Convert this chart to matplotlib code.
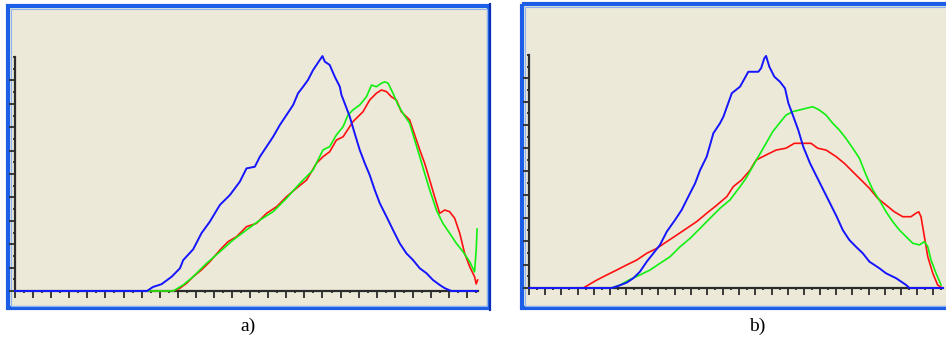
import matplotlib.pyplot as plt
from matplotlib.patches import Rectangle
from matplotlib.ticker import MultipleLocator

# intensity (0-255) against relative count (% of the tallest peak)
a_blue_x = [0, 73, 76.2, 81.0, 86.6, 91.2, 93.0, 98.5, 103.1, 107.7, 113.3, 118.8, 124.3, 128.0, 132.6,
            135.4, 139.1, 142.7, 146.4, 150.1, 153.8, 156.5, 159.3, 162.0, 164.8, 168.5, 170.0, 171.3,
            174.0, 176.8, 179.6, 180.5, 182.3, 185.1, 187.8, 190.6, 193.4, 196.1, 198.9, 201.7, 205.4,
            209.0, 212.7, 216.4, 220.1, 223.8, 227.5, 231.1, 234.8, 237.6, 241.3, 255.5]
a_blue_y = [0, 0, 1.7, 2.9, 6.1, 9.7, 13.2, 17.8, 24.7, 29.6, 36.8, 41.0, 46.7, 52.4, 53.1,
            57.4, 61.7, 65.9, 70.9, 75.2, 79.5, 84.5, 87.3, 90.2, 94.4, 98.7, 100.4, 98.0,
            96.6, 91.6, 87.3, 83.8, 80.2, 74.5, 67.4, 60.3, 54.6, 49.6, 43.2, 37.5, 31.8,
            26.1, 20.4, 16.1, 13.2, 9.7, 7.6, 4.7, 2.6, 1.2, 0, 0]

a_red_x = [0, 87.5, 91.2, 94.9, 98.5, 103.1, 107.7, 113.3, 117.8, 122.5, 128.0, 133.5, 139.1, 144.6,
           150.1, 155.6, 161.2, 166.7, 170.3, 174.0, 177.7, 181.4, 186.9, 192.4, 196.1, 199.8, 202.6,
           205.4, 208.1, 210.9, 213.6, 218.2, 221.0, 223.8, 226.5, 229.3, 232.0, 234.8, 237.6, 240.3,
           243.1, 245.9, 248.6, 251.4, 254.1, 255.0, 255.8]
a_red_y = [0, 0, 1.2, 3.3, 6.1, 9.0, 12.5, 17.5, 21.1, 23.2, 27.5, 28.9, 33.2, 36.0,
           40.3, 43.9, 47.4, 54.6, 57.4, 59.5, 64.5, 65.9, 72.4, 76.6, 81.6, 84.5, 85.9,
           85.2, 83.0, 81.6, 76.6, 73.1, 66.7, 60.3, 54.6, 47.4, 40.3, 33.2, 34.6, 33.9,
           31.1, 24.7, 16.1, 10.4, 6.1, 3.0, 4.7]

a_green_x = [0, 87.5, 93.0, 98.5, 105.9, 113.3, 120.6, 128.0, 135.4, 142.7, 150.1, 157.5, 164.8,
             170.3, 174.0, 177.7, 181.4, 184.1, 186.9, 190.6, 194.3, 197.1, 199.8, 202.6, 204.4,
             206.3, 209.0, 211.8, 214.5, 218.2, 221.0, 223.8, 226.5, 229.3, 233.0, 236.6, 240.3,
             244.0, 247.7, 251.4, 254.1, 255.0, 255.5]
a_green_y = [0, 0, 2.6, 6.1, 11.8, 16.8, 21.8, 26.1, 30.3, 33.9, 39.6, 46.0, 51.7,
             60.3, 61.7, 66.7, 70.2, 75.2, 77.4, 79.5, 83.0, 88.0, 87.3, 88.8, 89.4,
             88.8, 84.5, 79.5, 75.9, 71.7, 64.5, 57.4, 50.3, 43.2, 34.6, 28.9, 24.7,
             20.4, 16.8, 12.5, 8.2, 17.5, 26.5]

b_blue_x = [0, 51.1, 55.2, 60.4, 64.5, 68.6, 72.8, 76.9, 81.0, 85.2, 90.3, 94.4, 98.5, 102.7, 105.8,
            109.9, 114.0, 118.1, 120.2, 125.4, 130.5, 135.6, 141.8, 143.5, 145.5, 146.6, 148.6,
            151.7, 155.2, 158.3, 160.4, 163.5, 166.5, 169.6, 173.8, 178.9, 184.1, 190.3, 194.0,
            198.1, 202.2, 206.4, 210.5, 216.6, 220.8, 227.0, 233.2, 235.2, 256]
b_blue_y = [0, 0, 0.9, 2.3, 4.2, 7.0, 11.3, 14.9, 18.5, 24.2, 29.2, 33.5, 39.2, 44.9, 50.6,
            56.4, 66.4, 70.7, 73.5, 83.6, 86.4, 92.8, 92.8, 94.3, 98.6, 99.6, 95.0,
            90.7, 88.5, 85.7, 79.3, 73.5, 67.8, 60.6, 53.5, 46.4, 39.2, 30.6, 24.9,
            20.6, 17.7, 14.9, 11.3, 8.5, 6.3, 4.2, 1.3, 0, 0]

b_red_x = [0, 33.6, 36.7, 41.9, 48.1, 54.2, 60.4, 66.6, 72.8, 79.0, 85.2, 91.3, 97.5, 103.7, 109.9,
           115.0, 122.3, 126.3, 131.5, 136.7, 140.4, 146.6, 152.8, 158.9, 164.1, 169.3, 174.4,
           178.5, 183.7, 189.9, 195.0, 200.2, 205.3, 210.5, 215.6, 220.8, 225.9, 231.1, 236.2,
           239.3, 241.0, 242.4, 244.5, 246.6, 249.7, 252.7, 254.8]
b_red_y = [0, 0, 1.3, 3.4, 5.6, 7.7, 9.9, 12.0, 14.9, 17.0, 19.9, 22.7, 25.6, 28.5, 32.1,
           34.9, 39.2, 43.5, 46.4, 50.6, 54.9, 57.1, 59.2, 60.0, 62.1, 62.1, 62.1,
           60.0, 59.2, 56.4, 53.5, 49.9, 46.4, 42.8, 38.5, 35.6, 32.7, 30.6, 30.6,
           32.1, 32.7, 30.6, 22.0, 13.4, 6.3, 1.3, 0.3]

b_green_x = [0, 51.1, 56.3, 62.5, 68.6, 74.8, 81.0, 87.2, 93.4, 99.6, 105.8, 111.9, 118.1, 124.3,
             130.5, 134.2, 138.3, 142.4, 146.6, 150.7, 154.8, 158.9, 163.1, 167.2, 171.3, 175.4,
             179.5, 183.7, 187.8, 191.9, 196.0, 200.2, 204.3, 208.4, 212.6, 216.6, 220.8, 224.9,
             229.0, 233.2, 237.3, 241.4, 244.5, 246.6, 248.6, 251.7, 254.8]
b_green_y = [0, 0, 1.3, 3.7, 5.6, 7.7, 10.6, 13.4, 17.7, 21.3, 25.6, 29.9, 34.2, 37.8,
             43.5, 47.1, 52.1, 57.1, 62.1, 67.1, 70.7, 74.2, 75.7, 76.4, 77.1, 77.8,
             76.4, 74.2, 70.7, 67.8, 64.2, 60.0, 55.7, 48.5, 42.1, 37.8, 32.7, 28.5,
             24.9, 22.0, 19.2, 18.5, 19.9, 17.7, 12.0, 6.3, 1.3]

panels = [
    ('a)', a_red_x, a_red_y, a_green_x, a_green_y, a_blue_x, a_blue_y),
    ('b)', b_red_x, b_red_y, b_green_x, b_green_y, b_blue_x, b_blue_y),
]

bg = '#ece9d8'
fig = plt.figure(figsize=(9.46, 3.42), dpi=100)
fig.patch.set_facecolor('white')

# window frames drawn in pixel space
frame = fig.add_axes([0, 0, 1, 1])
frame.set_xlim(0, 946)
frame.set_ylim(342, 0)
frame.axis('off')
for x0, x1, y0 in [(6, 491, 4), (520, 960, 2)]:
    frame.add_patch(Rectangle((x0, y0), x1 - x0, 310 - y0, facecolor=bg, edgecolor='none'))
    frame.add_patch(Rectangle((x0 + 2, y0 + 2), x1 - x0 - 4, 306 - y0, facecolor='none',
                              edgecolor='#1c5fe6', linewidth=3))
    frame.add_patch(Rectangle((x0 + 4.5, y0 + 4.5), x1 - x0 - 9, 301 - y0, facecolor='none',
                              edgecolor='#8fb2f0', linewidth=0.8))
frame.plot([489.5, 489.5], [4, 310], color='#0a2fb5', lw=1.5)

rects = [[15 / 946, 1 - 291 / 342, 463 / 946, 234 / 342],
         [529 / 946, 1 - 288 / 342, 414 / 946, 233 / 342]]
label_x = [248, 757]

for (name, rx, ry, gx, gy, bx, by), r, lx in zip(panels, rects, label_x):
    ax = fig.add_axes(r)
    ax.set_facecolor('none')
    ax.plot(rx, ry, color='#ff1010', lw=1.2, zorder=3, clip_on=False)
    ax.plot(gx, gy, color='#10f010', lw=1.2, zorder=4, clip_on=False)
    ax.plot(bx, by, color='#1515ff', lw=1.4, zorder=5, clip_on=False)
    ax.set_xlim(0, 256)
    ax.set_ylim(0, 100)
    for s in ['top', 'right']:
        ax.spines[s].set_visible(False)
    for s in ['left', 'bottom']:
        ax.spines[s].set_color('#2b2b2b')
        ax.spines[s].set_linewidth(1.6)
    ax.xaxis.set_major_locator(MultipleLocator(10))
    ax.xaxis.set_minor_locator(MultipleLocator(5))
    ax.yaxis.set_major_locator(MultipleLocator(10))
    ax.yaxis.set_minor_locator(MultipleLocator(5))
    ax.set_yticks([t for t in range(0, 100, 10)])
    ax.tick_params(which='major', axis='x', direction='out', length=5, width=1.3,
                   color='#2b2b2b', labelbottom=False)
    ax.tick_params(which='major', axis='y', direction='out', length=4.5, width=1.3,
                   color='#2b2b2b', labelleft=False)
    ax.tick_params(which='minor', direction='out', length=1.5, width=1.3, color='#2b2b2b')
    fig.text(lx / 946, 1 - 326 / 342, name, ha='center', va='center',
             family='Liberation Serif', fontsize=14)

fig.savefig('out.png', dpi=100)
